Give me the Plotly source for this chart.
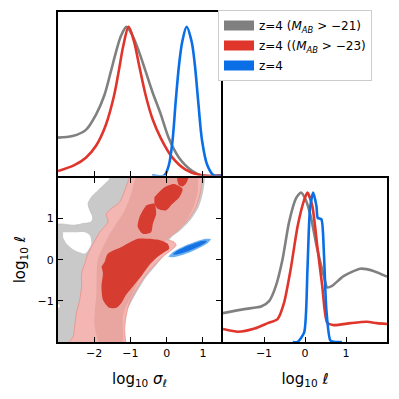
import plotly.graph_objects as go

# ---------------- 1D marginals: log10 sigma_l (top-left panel) ----------------
sig_gray_x = [-3.0, -2.6, -2.23, -1.95, -1.72, -1.54, -1.40, -1.26, -1.11, -0.94, -0.76, -0.58, -0.39, -0.16, 0.06, 0.34, 0.71, 0.98, 1.5]
sig_gray_y = [0.255, 0.265, 0.307, 0.41, 0.54, 0.70, 0.83, 0.94, 1.0, 0.94, 0.83, 0.70, 0.56, 0.41, 0.25, 0.12, 0.03, 0.0, 0.0]
sig_red_x = [-3.0, -2.55, -2.23, -1.95, -1.68, -1.45, -1.31, -1.2, -1.05, -0.90, -0.76, -0.58, -0.39, -0.16, 0.16, 0.52, 0.98, 1.5]
sig_red_y = [0.03, 0.07, 0.12, 0.20, 0.34, 0.54, 0.72, 0.87, 1.0, 0.90, 0.74, 0.54, 0.38, 0.25, 0.12, 0.04, 0.0, 0.0]
sig_blue_x = [-0.4, -0.07, 0.06, 0.16, 0.25, 0.34, 0.43, 0.55, 0.69, 0.78, 0.87, 0.98, 1.12, 1.30, 1.5]
sig_blue_y = [0.0, 0.0, 0.07, 0.23, 0.50, 0.74, 0.90, 1.0, 0.90, 0.74, 0.50, 0.23, 0.07, 0.0, 0.0]

# ---------------- 1D marginals: log10 l (bottom-right panel) ----------------
ell_gray_x = [-2.0, -1.48, -1.07, -0.87, -0.71, -0.55, -0.39, -0.22, -0.10, 0.02, 0.14, 0.30, 0.46, 0.54, 0.66, 0.94, 1.35, 1.67, 2.0]
ell_gray_y = [0.193, 0.22, 0.237, 0.275, 0.375, 0.55, 0.80, 0.96, 1.0, 0.95, 0.84, 0.62, 0.44, 0.365, 0.375, 0.44, 0.49, 0.475, 0.437]
ell_red_x = [-2.0, -1.63, -1.23, -0.91, -0.67, -0.51, -0.35, -0.18, -0.02, 0.06, 0.18, 0.30, 0.42, 0.54, 0.70, 1.11, 1.51, 1.75, 2.0]
ell_red_y = [0.087, 0.069, 0.09, 0.126, 0.153, 0.264, 0.486, 0.774, 0.95, 1.0, 0.907, 0.64, 0.375, 0.13, 0.113, 0.126, 0.135, 0.126, 0.12]
ell_blue_x = [-0.3, -0.18, -0.02, 0.06, 0.12, 0.20, 0.28, 0.31, 0.40, 0.46, 0.52, 0.62, 0.74, 0.9]
ell_blue_y = [0.0, 0.0, 0.064, 0.486, 0.885, 1.0, 0.907, 0.83, 0.82, 0.6, 0.22, 0.01, 0.0, 0.0]

# ---------------- 2D contours (log10 sigma_l, log10 l) ----------------
gray2_x = [-3.1, -3.1, -2.95, -2.95, -3.1, -3.1, -2.54, -2.31, -2.08, -2.04, -2.12, -2.17, -2.08, -1.90, -1.71, -1.58, -1.52,
           1.0, 1.0, 0.87, 0.64, 0.36, 0.12, 0.02, -0.02, -0.30, -0.57, -0.80, -1.0, -1.15, -1.21, -1.21]
gray2_y = [-2.1, -1.21, -1.17, -1.08, -1.05, 0.84, 0.84, 0.88, 0.92, 1.04, 1.2, 1.36, 1.52, 1.68, 1.84, 1.96, 2.1,
           2.1, 1.68, 1.28, 0.96, 0.71, 0.55, 0.4, 0.2, -0.13, -0.41, -0.73, -1.05, -1.3, -1.5, -2.1]
pocket_x = [-2.86, -2.54, -2.26, -2.12, -2.08, -2.17, -2.26, -2.54, -2.76, -2.86]
pocket_y = [0.67, 0.67, 0.67, 0.59, 0.39, 0.23, 0.15, 0.23, 0.39, 0.55]
pink_x = [-2.81, -2.58, -2.54, -2.49, -2.40, -2.35, -2.35, -2.26, -2.17, -2.03, -1.85, -1.62, -1.67, -1.53, -1.30, -1.16, -1.03, -1.0,
          0.94, 0.94, 0.81, 0.58, 0.30, 0.07, -0.02, 0.21, 0.26, 0.12, -0.06, -0.34, -0.61, -0.84, -1.03, -1.12, -1.16, -1.12]
pink_y = [-2.1, -1.86, -1.61, -1.29, -0.97, -0.65, -0.33, -0.09, 0.15, 0.39, 0.67, 0.92, 1.12, 1.24, 1.40, 1.68, 2.0, 2.1,
          2.1, 1.68, 1.28, 0.96, 0.71, 0.55, 0.50, 0.43, 0.35, 0.23, 0.11, -0.13, -0.41, -0.73, -1.05, -1.37, -1.69, -2.1]
mid_x = [-0.84, -0.98, -1.16, -1.39, -1.62, -1.90, -1.94, -1.99, -1.80,
         -1.25, -1.21, -1.12, -0.95, -0.78, -0.55, -0.38, -0.12, 0.0, 0.25, 0.52, 0.74, 0.86, 0.86]
mid_y = [2.1, 1.60, 1.20, 0.88, 0.55, 0.0, -0.81, -1.61, -2.1,
         -2.1, -1.37, -1.12, -0.85, -0.52, -0.25, -0.05, 0.3, 0.5, 0.68, 0.92, 1.28, 1.68, 2.1]
darkA_x = [-1.71, -1.62, -1.25, -0.80, -0.48, -0.16, 0.03, 0.07, -0.06, -0.25, -0.48, -0.71, -0.93, -1.12, -1.25, -1.39, -1.58, -1.76, -1.80, -1.76, -1.80]
darkA_y = [-0.05, 0.15, 0.31, 0.51, 0.51, 0.47, 0.39, 0.27, 0.19, 0.07, -0.13, -0.41, -0.65, -0.85, -1.05, -1.17, -1.17, -0.97, -0.65, -0.33, -0.17]
darkB_x = [-0.57, -0.34, -0.29, -0.38, -0.43, -0.66, -0.80, -0.75, -0.66]
darkB_y = [1.32, 1.36, 1.12, 0.88, 0.67, 0.63, 0.80, 1.04, 1.2]
darkC_x = [-0.34, -0.06, 0.21, 0.44, 0.35, 0.16, -0.02, -0.25, -0.34]
darkC_y = [1.52, 1.76, 1.84, 1.72, 1.52, 1.36, 1.20, 1.24, 1.36]
darkD_x = [0.30, 0.30, 0.62, 0.55, 0.44, 0.33]
darkD_y = [1.9, 2.1, 2.1, 1.88, 1.78, 1.82]
blue2_x = [0.05, 0.192, 0.379, 0.677, 0.964, 1.128, 1.22, 1.078, 0.892, 0.593, 0.307, 0.142, 0.05]
blue2_y = [0.07, 0.060, 0.101, 0.196, 0.316, 0.404, 0.50, 0.510, 0.470, 0.374, 0.255, 0.166, 0.07]
blue1_x = [0.17, 0.281, 0.431, 0.671, 0.906, 1.041, 1.12, 1.009, 0.860, 0.619, 0.385, 0.249, 0.17]
blue1_y = [0.13, 0.129, 0.164, 0.239, 0.329, 0.393, 0.46, 0.461, 0.426, 0.351, 0.261, 0.197, 0.13]

legend_labels = ["z=4 (<i>M</i><sub><i>AB</i></sub> > −21)",
                 "z=4 ((<i>M</i><sub><i>AB</i></sub> > −23)",
                 "z=4"]

GRAY = "#808080"
RED = "#e0352b"
BLUE = "#0a6fe6"
FONT = "DejaVu Sans"

fig = go.Figure()

def line(x, y, color, xa, ya, sm=0.9):
    fig.add_trace(go.Scatter(x=x, y=y, mode="lines", line=dict(color=color, width=2.6, shape="spline", smoothing=sm),
                             xaxis=xa, yaxis=ya, showlegend=False, hoverinfo="skip"))

def poly(x, y, fill, xa="x2", ya="y2", lc=None, lw=0):
    fig.add_trace(go.Scatter(x=x, y=y, mode="lines", fill="toself", fillcolor=fill,
                             line=dict(color=lc or fill, width=lw, shape="spline", smoothing=0.7),
                             xaxis=xa, yaxis=ya, showlegend=False, hoverinfo="skip"))

# 2D
poly(gray2_x, gray2_y, "#c9c9c9", lc="#b5b5b5", lw=0.6)
poly(pocket_x, pocket_y, "#ffffff")
poly(pink_x, pink_y, "#f3b6b2", lc="#ec8f88", lw=0.8)
poly(mid_x, mid_y, "#e9a5a0")
for dx, dy in [(darkA_x, darkA_y), (darkB_x, darkB_y), (darkC_x, darkC_y), (darkD_x, darkD_y)]:
    poly(dx, dy, "#d63c30")
poly(blue2_x, blue2_y, "#6cb0f2")
poly(blue1_x, blue1_y, "#1672e2")

# top-left
line(sig_gray_x, sig_gray_y, GRAY, "x", "y")
line(sig_red_x, sig_red_y, RED, "x", "y")
line(sig_blue_x, sig_blue_y, BLUE, "x", "y")
# bottom-right
line(ell_gray_x, ell_gray_y, GRAY, "x3", "y3", 0.6)
line(ell_red_x, ell_red_y, RED, "x3", "y3", 0.6)
line(ell_blue_x, ell_blue_y, BLUE, "x3", "y3", 0.6)

# legend-only traces
for i, (lab, col) in enumerate(zip(legend_labels, [GRAY, RED, BLUE])):
    fig.add_trace(go.Scatter(x=[None], y=[None], mode="lines", line=dict(color=col, width=10),
                             name=lab, legendgroup=f"g{i}", xaxis="x", yaxis="y", showlegend=True))

W = 391  # page body has an 8px margin in the 399px window
XL = [50 / W, 213 / W]
XR = [215 / W, 379 / W]
YT = [1 - 167.5 / W, 1 - 4 / W]
YB = [1 - 334 / W, 1 - 169.5 / W]

ax_common = dict(showline=True, linecolor="black", linewidth=2, ticks="inside", ticklen=5, tickwidth=1,
                 tickcolor="black", showgrid=False, zeroline=False, automargin=False,
                 tickfont=dict(family=FONT, size=11, color="black"))
ax_plain = dict(showline=True, linecolor="black", linewidth=2, mirror=True, ticks="", showticklabels=False,
                showgrid=False, zeroline=False, automargin=False)
title_font = dict(size=15, family=FONT, color="black")

fig.update_layout(
    width=W, height=W, margin=dict(l=0, r=0, t=0, b=0, autoexpand=False),
    paper_bgcolor="white", plot_bgcolor="white",
    font=dict(family=FONT, color="black"),
    xaxis=dict(domain=XL, anchor="y", range=[-3, 1.5], tickvals=[-2, -1, 0, 1], showticklabels=False,
               mirror=True, **ax_common),
    yaxis=dict(domain=YT, anchor="x", range=[0, 1.1], **ax_plain),
    xaxis2=dict(domain=XL, anchor="y2", range=[-3, 1.5], tickvals=[-2, -1, 0, 1], ticktext=["−2", "−1", "0", "1"],
                mirror="ticks", title=dict(text="log<sub>10</sub> <i>σ</i><sub><i>ℓ</i></sub>", font=title_font, standoff=14),
                **ax_common),
    yaxis2=dict(domain=YB, anchor="x2", range=[-2, 2], tickvals=[-1, 0, 1], ticktext=["−1", "0", "1"],
                mirror="ticks", title=dict(text="log<sub>10</sub> <i>ℓ</i>", font=title_font, standoff=8),
                **ax_common),
    xaxis3=dict(domain=XR, anchor="y3", range=[-2, 2], tickvals=[-1, 0, 1], ticktext=["−1", "0", "1"],
                mirror=True, title=dict(text="log<sub>10</sub> <i>ℓ</i>", font=title_font, standoff=14),
                **ax_common),
    yaxis3=dict(domain=YB, anchor="x3", range=[0, 1.1], **ax_plain),
    legend=dict(x=210 / W, y=1 - 2 / W, xanchor="left", yanchor="top", bgcolor="white", bordercolor="#cccccc",
                borderwidth=1, font=dict(family=FONT, size=12, color="black"), itemwidth=30,
                tracegroupgap=1),
)

fig.write_html("out.html")
